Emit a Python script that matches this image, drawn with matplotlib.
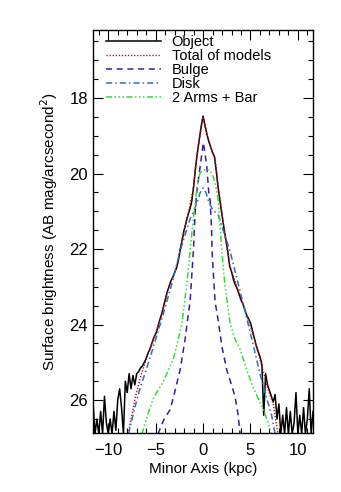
import numpy as np
import matplotlib
matplotlib.use("Agg")
import matplotlib.pyplot as plt
from matplotlib.ticker import MultipleLocator

plt.rcParams['font.family'] = ['Liberation Sans', 'DejaVu Sans']

# ---- Object (observed minor-axis profile), x grid step 0.2 kpc ----
obj_y = [
    # -11.6 .. -7.0
    26.1, 26.9, 26.5, 26.9, 26.3, 26.9, 25.9, 26.6, 26.9, 26.5, 26.9, 26.3,
    26.8, 26.0, 25.7, 26.2, 26.9, 25.5, 25.8, 25.3, 25.7, 25.35, 25.6, 25.3,
    # -6.8 .. -0.2
    25.25, 25.15, 25.1, 25.0, 24.9, 24.75, 24.65, 24.5, 24.35, 24.25, 24.1,
    23.9, 23.75, 23.55, 23.35, 23.15, 23.0, 22.85, 22.75, 22.62, 22.5, 22.3,
    22.0, 21.75, 21.5, 21.3, 21.1, 20.95, 20.75, 20.35, 19.85, 19.45, 19.1, 18.75,
    # 0.0
    18.48,
    # 0.2 .. 7.8
    18.72, 18.95, 19.15, 19.3, 19.45, 19.55, 19.95, 20.4, 20.75, 21.1, 21.45,
    21.75, 22.05, 22.45, 22.6, 22.8, 22.95, 23.05, 23.2, 23.35, 23.45, 23.6,
    23.75, 23.85, 23.95, 24.15, 24.35, 24.55, 24.7, 24.85, 25.05, 26.4, 25.3,
    25.6, 25.75, 25.9, 26.05, 25.85, 26.5,
    # 8.0 .. 11.6
    26.1, 26.9, 26.4, 26.9, 26.2, 26.9, 26.3, 26.9, 26.6, 25.8, 26.9, 26.4,
    26.9, 26.2, 26.9, 26.5, 25.7, 26.9, 26.3,
]
obj_x = np.round(np.linspace(-11.6, 11.6, len(obj_y)), 2)

# ---- Total of models ----
tot_x = [-7.9, -7.16, -6.5, -5.6, -4.5, -3.65, -2.77, -2.07, -1.55, -1.0, -0.66,
         -0.3, 0.0, 0.3, 0.74, 1.26, 1.6, 1.97, 2.3, 2.84, 3.9, 4.95, 5.65, 6.2,
         6.84, 7.4, 7.9]
tot_y = [26.9, 25.94, 25.3, 24.65, 23.85, 23.05, 22.45, 21.6, 21.05, 20.35, 19.55,
         18.95, 18.5, 18.85, 19.27, 19.6, 20.35, 21.0, 21.6, 22.45, 23.25, 24.0,
         24.6, 25.1, 25.7, 26.1, 26.9]

# ---- Bulge ----
bul_x = [-4.75, -4.2, -3.47, -3.0, -2.42, -1.9, -1.65, -1.37, -1.02, -0.84, -0.67,
         -0.3, 0.03, 0.39, 0.6, 0.75, 0.9, 0.95, 1.26, 1.6, 2.0, 2.5, 3.0, 3.37,
         3.7, 3.9]
bul_y = [26.9, 26.55, 26.25, 25.8, 25.2, 24.4, 23.9, 23.38, 22.05, 21.05, 20.5,
         19.8, 19.18, 19.8, 20.5, 20.73, 21.5, 22.05, 23.38, 23.9, 24.6, 25.2,
         25.6, 25.9, 26.4, 26.9]

# ---- Disk ----
dsk_x = [-7.86, -7.2, -6.63, -6.0, -5.5, -4.35, -3.3, -2.42, -1.37, -1.0, -0.6,
         -0.3, 0.0, 0.3, 0.6, 1.0, 1.6, 2.84, 3.72, 4.6, 5.3, 6.0, 6.6, 7.23, 7.6]
dsk_y = [26.9, 26.2, 25.67, 25.2, 24.8, 23.85, 22.93, 22.05, 21.2, 21.0, 20.75,
         20.5, 20.38, 20.5, 20.75, 20.95, 21.1, 22.05, 22.93, 23.82, 24.55, 25.3,
         25.85, 26.4, 26.9]

# ---- 2 Arms + Bar ----
arm_x = [-6.45, -5.8, -5.23, -4.18, -3.12, -2.24, -1.72, -1.37, -1.02, -0.75,
         -0.5, -0.3, 0.0, 0.4, 0.8, 1.1, 1.4, 1.6, 1.97, 2.3, 2.84, 3.3, 3.9, 4.6,
         5.3, 5.8, 6.35, 6.8, 7.2]
arm_y = [26.9, 26.35, 25.94, 25.5, 24.9, 24.0, 22.93, 22.05, 21.17, 20.6, 20.15,
         19.98, 19.92, 19.88, 19.95, 20.1, 20.4, 20.73, 22.05, 22.93, 23.95, 24.35,
         24.65, 25.2, 25.67, 25.95, 26.25, 26.55, 26.9]

labels = ["Object", "Total of models", "Bulge", "Disk", "2 Arms + Bar"]

fig = plt.figure(figsize=(3.41, 4.92), dpi=100)
ax = fig.add_axes([0.273, 0.12, 0.645, 0.819])

ax.plot(obj_x, obj_y, color='black', lw=1.1, label=labels[0])
ax.plot(tot_x, tot_y, color='#c01010', lw=1.0, ls=(0, (1, 1.2)), label=labels[1])
ax.plot(bul_x, bul_y, color='#3a1c9c', lw=1.1, ls=(0, (4, 3)), label=labels[2])
ax.plot(dsk_x, dsk_y, color='#2a70c0', lw=1.1, ls=(0, (4, 2, 1, 2)), label=labels[3])
ax.plot(arm_x, arm_y, color='#30dd30', lw=1.1,
        ls=(0, (4, 1.6, 1, 1.6, 1, 1.6, 1, 1.6)), label=labels[4])

ax.set_xlim(-11.6, 11.6)
ax.set_ylim(26.87, 16.2)
ax.xaxis.set_major_locator(MultipleLocator(5))
ax.xaxis.set_minor_locator(MultipleLocator(1))
ax.yaxis.set_major_locator(MultipleLocator(2))
ax.yaxis.set_minor_locator(MultipleLocator(0.5))
ax.tick_params(which='both', direction='in', top=True, right=True, width=0.8,
               labelsize=12)
ax.tick_params(axis='x', which='major', pad=7)
ax.tick_params(which='major', length=7)
ax.tick_params(which='minor', length=3.5)
ax.set_yticks([18, 20, 22, 24, 26])
for s in ax.spines.values():
    s.set_linewidth(1.0)

ax.set_xlabel("Minor Axis (kpc)", fontsize=11, labelpad=3)
ax.set_ylabel("Surface brightness (AB mag/arcsecond$^2$)", fontsize=11, labelpad=7)

ax.legend(loc='upper left', bbox_to_anchor=(0.045, 0.995), frameon=False,
          fontsize=10.5, handlelength=3.8, handletextpad=0.7, labelspacing=0.0,
          borderpad=0.2, borderaxespad=0.0)

fig.savefig("out.png", dpi=100)
